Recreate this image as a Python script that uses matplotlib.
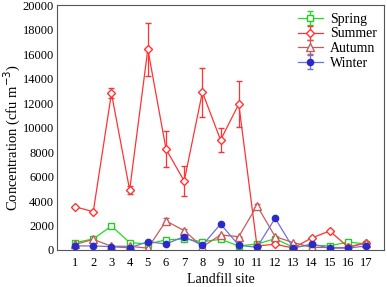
import numpy as np
from matplotlib import pyplot as plt

plt.rcParams['font.family'] = ['Liberation Serif', 'DejaVu Serif']

sites = list(range(1, 18))

spring = [600, 900, 1960, 600, 500, 820, 900, 680, 870, 330, 490, 920, 220, 400, 330, 650, 490]
spring_err = [0] * 17

summer = [3530, 3130, 12800, 4900, 16400, 8240, 5630, 12900, 8980, 11920, 330, 470, 160, 980, 1550, 250, 570]
summer_err = [0, 0, 400, 300, 2150, 1500, 1230, 2000, 1000, 1900, 0, 0, 0, 0, 0, 0, 0]

autumn = [450, 870, 300, 300, 150, 2370, 1580, 270, 1220, 1090, 3620, 1090, 600, 220, 200, 200, 600]
autumn_err = [0, 0, 0, 0, 0, 250, 150, 0, 0, 0, 150, 0, 0, 0, 0, 0, 0]

winter = [330, 330, 270, 170, 680, 490, 1090, 380, 2120, 380, 220, 2590, 150, 490, 150, 150, 330]
winter_err = [0] * 17

fig = plt.figure(figsize=(3.87, 2.87), dpi=100)
ax = fig.add_axes([0.147, 0.129, 0.846, 0.853])

ax.errorbar(sites, spring, yerr=spring_err, color='#22dd22', marker='s', ms=5,
            mfc='white', mec='#22cc22', lw=0.9, capsize=2, label='Spring')
ax.errorbar(sites, summer, yerr=summer_err, color='#ff3333', marker='D', ms=4.5,
            mfc='white', mec='#ff3333', lw=0.9, capsize=2, label='Summer')
ax.errorbar(sites, autumn, yerr=autumn_err, color='#c85a5a', marker='^', ms=5.5,
            mfc='white', mec='#c85a5a', lw=0.9, capsize=2, label='Autumn')
ax.errorbar(sites, winter, yerr=winter_err, color='#7070dd', marker='o', ms=4.5,
            mfc='#2a2acc', mec='#2a2acc', lw=0.9, capsize=2, label='Winter')

ax.set_xlim(0, 18)
ax.set_ylim(0, 20000)
ax.set_xticks(sites)
ax.set_yticks(range(0, 20001, 2000))
ax.tick_params(labelsize=9, length=0)
ax.tick_params(axis='x', pad=5)
ax.tick_params(axis='y', pad=2)
ax.set_xlabel('Landfill site', fontsize=10, labelpad=3)
ax.set_ylabel('Concentration (cfu m$^{-3}$)', fontsize=10.5)
ax.yaxis.set_label_coords(-0.105, 0.46)
for s in ax.spines.values():
    s.set_color('#555555')

ax.legend(loc='upper right', frameon=False, fontsize=10, handlelength=1.8,
          labelspacing=0.12, borderaxespad=0.15, handletextpad=0.5)

fig.savefig('out.png', dpi=100)
